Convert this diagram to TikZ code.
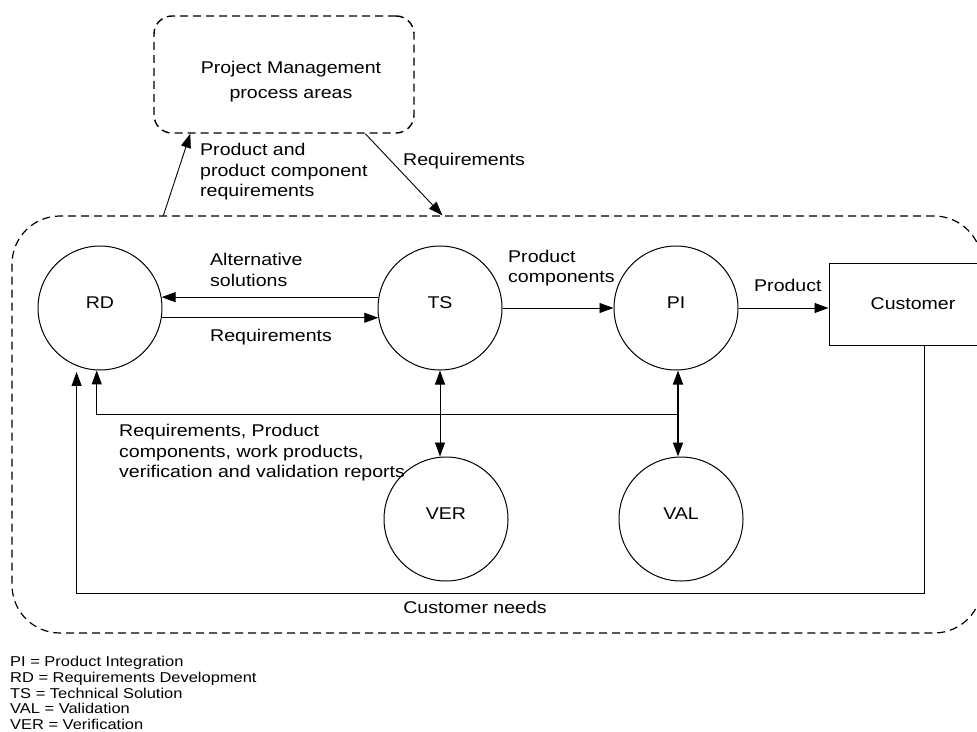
\documentclass[tikz,border=0pt]{standalone}
\usepackage{fontspec}
\setmainfont{Liberation Sans}[FakeStretch=1.15]
\usetikzlibrary{arrows.meta,calc}
\newcommand\fsMain{\fontsize{17}{20.5}\selectfont}
\newcommand\fsLeg{\fontsize{14.3}{15.8}\selectfont}
\begin{document}
\begin{tikzpicture}[x=1pt,y=-1pt,
  circ/.style={draw, circle, minimum size=124pt, inner sep=0pt, line width=1pt, font=\fsMain, text depth=10pt},
  custbox/.style={draw, rectangle, minimum width=168pt, minimum height=82pt, inner sep=0pt, line width=1pt, font=\fsMain},
  pmbox/.style={draw, dash pattern=on 8pt off 5pt, line width=1.4pt, rounded corners=18pt, minimum width=260pt, minimum height=117pt, inner sep=0pt},
  bigbox/.style={draw, dash pattern=on 8pt off 5pt, line width=1.2pt, rounded corners=48pt, minimum width=970pt, minimum height=417pt, inner sep=0pt},
  tip/.tip={Triangle[length=14pt,width=10pt]},
  arr/.style={-tip, line width=0.9pt},
  dbl/.style={tip-tip, line width=0.9pt},
  lbl/.style={font=\fsMain, align=left, inner sep=0pt},
  legend/.style={font=\fsLeg, align=left, inner sep=0pt}
]
\useasboundingbox (0,0) rectangle (977,731);

% containers
\node[pmbox] (PM) at (284,74.5) {};
\node[font=\fontsize{17}{25}\selectfont, align=center, inner sep=0pt] (PMtext) at (291,82) {Project Management\\process areas};
\node[bigbox] (PA) at (497,424.5) {};

% process areas
\node[circ] (RD) at (100,308) {RD};
\node[circ] (TS) at (440,308) {TS};
\node[circ] (PI) at (676,308) {PI};
\node[circ] (VER) at (446,519) {VER};
\node[circ] (VAL) at (681,519) {VAL};
\node[custbox] (CU) at (913,304) {Customer};

% connectors to/from project management
\draw[arr] ($(PA.north west)+(152,0)$) -- ($(PM.south west)+(37,0)$);
\draw[arr] ($(PM.south west)+(212,0)$) -- ($(PA.north west)+(431,0)$);

% horizontal flows
\draw[arr] (TS.170) -- (RD.10);
\draw[arr] (RD.-9) -- (TS.189);
\draw[arr] (TS.east) -- (PI.west);
\draw[arr] (PI.east) -- (PI.east -| CU.west);

% verification / validation
\draw[dbl] (TS.south) -- (TS.south |- VER.north);
\coordinate (fb) at (678,414);
\draw[dbl, line width=1.8pt] (PI.south -| fb) -- (fb |- VAL.north);
\draw[arr] (fb) -- (fb -| RD.267) -- (RD.267);

% customer needs
\draw[arr, shorten >=6pt] ($(CU.south)+(11,0)$) -- ++(0,248) -| (RD.248);

% labels
\node[lbl, anchor=west] (l1) at (200,172) {Product and\\product component\\requirements};
\node[lbl, anchor=west] (l2) at (403,161) {Requirements};
\node[lbl, anchor=west] (alt) at (210,270) {Alternative\\solutions};
\node[lbl, anchor=west] (req2) at (210,337) {Requirements};
\node[lbl, anchor=west] (pc) at (508,268) {Product\\components};
\node[lbl, anchor=west] (prod) at (754,285) {Product};
\node[lbl, anchor=west] (fbl) at (119,453) {Requirements, Product\\components, work products,\\verification and validation reports};
\node[lbl] (cneeds) at (475,607) {Customer needs};

% legend
\node[legend, anchor=west] (leg) at (10,693) {PI = Product Integration\\RD = Requirements Development\\TS = Technical Solution\\VAL = Validation\\VER = Verification};
\end{tikzpicture}
\end{document}
